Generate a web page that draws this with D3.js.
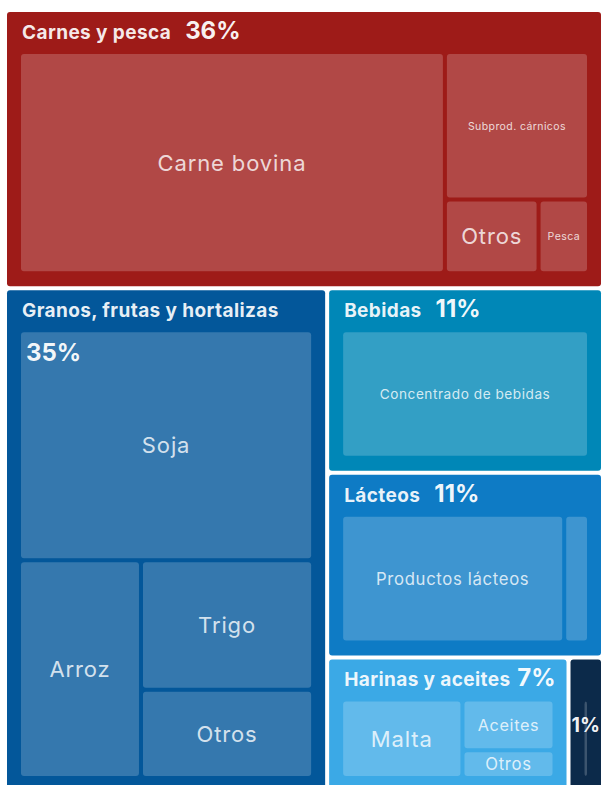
<!DOCTYPE html>
<html>
<head>
<meta charset="utf-8">
<script src="https://cdn.jsdelivr.net/npm/d3@7"></script>
<style>
body { margin: 0; background: #fff; overflow: hidden; }
text { font-family: Inter, "Open Sans", sans-serif; }
</style>
</head>
<body>
<svg width="602" height="785"></svg>
<script>
// Data (share of total, %)
var categories = ["Carnes y pesca", "Granos, frutas y hortalizas", "Bebidas", "Lácteos", "Harinas y aceites", "Otros"];
var colors = ["#9e1b18", "#03579a", "#0087b7", "#0e7bc5", "#3ba9e6", "#0c2a4a"];

var carnesNames = ["Carne bovina", "Subprod. cárnicos", "Otros", "Pesca"];
var carnesValues = [26.6, 6.0, 1.95, 1.05];

var granosNames = ["Soja", "Arroz", "Trigo", "Otros"];
var granosValues = [17.87, 7.02, 5.9, 4.01];

var bebidasNames = ["Concentrado de bebidas"];
var bebidasValues = [10.9];

var lacteosNames = ["Productos lácteos", "Otros"];
var lacteosValues = [9.81, 1.09];

var harinasNames = ["Malta", "Aceites", "Otros"];
var harinasValues = [3.98, 1.95, 1.07];

var otrosNames = ["Otros"];
var otrosValues = [1.0];

var subNames = [carnesNames, granosNames, bebidasNames, lacteosNames, harinasNames, otrosNames];
var subValues = [carnesValues, granosValues, bebidasValues, lacteosValues, harinasValues, otrosValues];

var svg = d3.select("svg");
var chart = svg.append("g").attr("transform", "translate(7,12)");

// Build hierarchy
var root = d3.hierarchy({
    children: categories.map(function(c, i) {
        return {
            name: c, color: colors[i],
            children: subNames[i].map(function(n, j) { return {name: n, value: subValues[i][j]}; })
        };
    })
}).sum(function(d) { return d.value; });

d3.treemap()
    .tile(d3.treemapBinary)
    .size([594, 779])
    .paddingInner(function(d) { return d.depth === 0 ? 4 : 0; })(root);

root.children.forEach(function(cat) {
    var g = chart.append("g");

    // category box
    g.append("rect")
        .attr("x", cat.x0).attr("y", cat.y0)
        .attr("width", cat.x1 - cat.x0).attr("height", cat.y1 - cat.y0)
        .attr("rx", 3)
        .attr("fill", cat.data.color);

    // inner cells sit inside the padded area of the box
    var sx = d3.scaleLinear().domain([cat.x0, cat.x1]).range([cat.x0 + 12, cat.x1 - 12]);
    var sy = d3.scaleLinear().domain([cat.y0, cat.y1]).range([cat.y0 + 40, cat.y1 - 13]);

    cat.children.forEach(function(d) {
        var x = sx(d.x0) + 2, y = sy(d.y0) + 2;
        var w = Math.max(0, sx(d.x1) - sx(d.x0) - 4), h = Math.max(0, sy(d.y1) - sy(d.y0) - 4);
        g.append("rect")
            .attr("x", x).attr("y", y)
            .attr("width", Math.max(w, 1)).attr("height", h)
            .attr("rx", 3)
            .attr("fill", "#fff").attr("fill-opacity", 0.2);

        // label sized to fit the cell
        var t = g.append("text")
            .attr("x", x + w / 2).attr("y", y + h / 2)
            .attr("dy", "0.36em")
            .attr("text-anchor", "middle")
            .attr("font-size", 10)
            .attr("letter-spacing", "0.04em")
            .attr("fill", "#fff").attr("fill-opacity", 0.8)
            .text(d.data.name);
        var len = t.node().getComputedTextLength();
        var size = Math.min(22, 0.7 * w * 10 / len, 0.7 * h);
        if (size < 8) t.remove();
        else t.attr("font-size", size);
    });

    // header: name + percentage
    var bw = cat.x1 - cat.x0;
    var nameT = g.append("text")
        .attr("x", cat.x0 + 15).attr("y", cat.y0 + 27)
        .attr("font-size", 19).attr("font-weight", 700)
        .attr("letter-spacing", 0.4)
        .attr("fill", "#fff").attr("fill-opacity", 0.92)
        .text(cat.data.name);
    var pctT = g.append("text")
        .attr("y", cat.y0 + 27)
        .attr("font-size", 24).attr("font-weight", 700)
        .attr("fill", "#fff").attr("fill-opacity", 0.95)
        .text(Math.round(cat.value) + "%");
    var nw = nameT.node().getComputedTextLength();
    var pw = pctT.node().getComputedTextLength();

    if (nw + 6 + pw <= bw - 22) {
        pctT.attr("x", Math.min(cat.x0 + 15 + nw + 14, cat.x1 - 11 - pw));
    } else if (nw <= bw - 28) {
        var first = cat.children[0];
        pctT.attr("x", sx(first.x0) + 7).attr("y", sy(first.y0) + 31);
    } else {
        nameT.remove();
        pctT.attr("x", (cat.x0 + cat.x1) / 2).attr("y", (cat.y0 + cat.y1) / 2)
            .attr("dy", "0.36em").attr("text-anchor", "middle")
            .attr("font-size", Math.min(24, 24 * (bw - 2) / pw));
    }
});
</script>
</body>
</html>
